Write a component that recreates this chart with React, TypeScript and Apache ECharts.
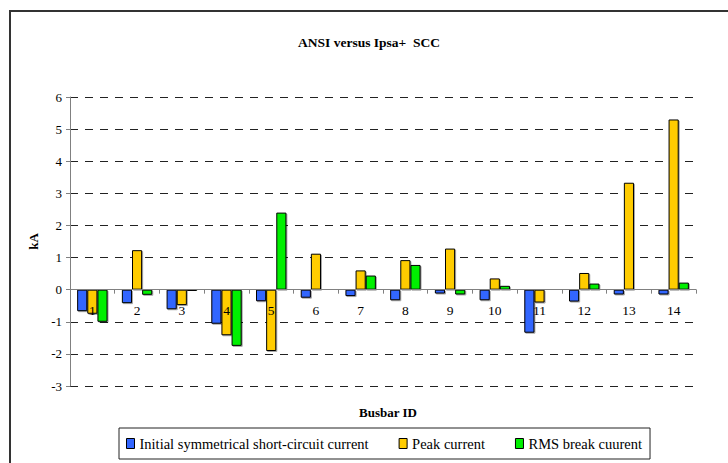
import React, { useEffect, useRef } from "react";
import * as echarts from "echarts";

const categories = ["1", "2", "3", "4", "5", "6", "7", "8", "9", "10", "11", "12", "13", "14"];
const initialSymmetrical = [-0.67, -0.42, -0.61, -1.06, -0.36, -0.25, -0.2, -0.33, -0.12, -0.33, -1.34, -0.37, -0.15, -0.15];
const peakCurrent = [-0.75, 1.23, -0.48, -1.42, -1.91, 1.12, 0.6, 0.92, 1.28, 0.35, -0.4, 0.52, 3.33, 5.3];
const rmsBreak = [-1.0, -0.16, -0.04, -1.75, 2.4, 0.03, 0.44, 0.77, -0.15, 0.12, -0.03, 0.19, -0.03, 0.22];
const seriesNames = ["Initial symmetrical short-circuit current", "Peak current", "RMS break cuurent"];
const seriesColors = ["#3366FF", "#FFCC00", "#00F000"];
const yMin = -3;
const yMax = 6;

const FONT = "'Liberation Serif', 'DejaVu Serif', serif";

const W = 728;
const H = 463;
const GRID = { left: 70, right: 32, top: 97, bottom: 77 };

export default function App() {
  const ref = useRef<HTMLDivElement>(null);
  useEffect(() => {
    if (!ref.current) return;
    const chart = echarts.init(ref.current, undefined, { renderer: "svg" });
    const values = [initialSymmetrical, peakCurrent, rmsBreak];
    const plotH = H - GRID.top - GRID.bottom;
    const zeroOffset = -(plotH * (0 - yMin)) / (yMax - yMin);
    chart.setOption({
      animation: false,
      backgroundColor: "#fff",
      title: [
        {
          text: "ANSI versus Ipsa+  SCC",
          left: 364,
          textAlign: "center",
          top: 30,
          textStyle: { fontFamily: FONT, fontSize: 13.5, fontWeight: "bold", color: "#000" },
        },
        {
          text: "Busbar ID",
          left: 383,
          textAlign: "center",
          top: 401,
          textStyle: { fontFamily: FONT, fontSize: 13, fontWeight: "bold", color: "#000" },
        },
      ],
      graphic: [
        {
          type: "polyline",
          shape: { points: [[10, 470], [10, 11], [740, 11]] },
          style: { stroke: "#333", lineWidth: 2, fill: "none" },
          silent: true,
        },
      ],
      legend: {
        left: 119,
        top: 428,
        padding: [8, 8, 8, 7],
        itemGap: 30,
        itemWidth: 8,
        itemHeight: 10,
        icon: "rect",
        borderColor: "#222",
        borderWidth: 1,
        textStyle: { fontFamily: FONT, fontSize: 14.5, color: "#000" },
        data: seriesNames.map((n) => ({ name: n, itemStyle: { borderColor: "#000", borderWidth: 1 } })),
      },
      grid: GRID,
      xAxis: {
        type: "category",
        data: categories,
        z: 10,
        position: "bottom",
        offset: zeroOffset,
        axisLine: { onZero: false, lineStyle: { color: "#808080", width: 1 } },
        axisTick: { show: true, length: 4, lineStyle: { color: "#808080" } },
        axisLabel: { margin: 14, fontFamily: FONT, fontSize: 13.5, color: "#000" },
      },
      yAxis: {
        type: "value",
        min: yMin,
        max: yMax,
        interval: 1,
        name: "kA",
        nameLocation: "middle",
        nameGap: 23,
        nameTextStyle: { fontFamily: FONT, fontSize: 13, fontWeight: "bold", color: "#000" },
        axisLine: { show: true, onZero: false, lineStyle: { color: "#808080", width: 1 } },
        axisTick: { show: true, length: 4, lineStyle: { color: "#808080" } },
        axisLabel: { margin: 8, fontFamily: FONT, fontSize: 13, color: "#000" },
        splitLine: { show: true, lineStyle: { color: "#222", width: 1, type: [8, 7] } },
      },
      series: seriesNames.map((name, i) => ({
        name,
        type: "bar",
        data: values[i],
        barGap: "0%",
        barCategoryGap: "32%",
        itemStyle: {
          color: seriesColors[i],
          borderColor: "#000",
          borderWidth: 1,
          shadowColor: "rgba(0,0,0,0.35)",
          shadowOffsetX: 1,
          shadowOffsetY: 1,
          shadowBlur: 1,
        },
      })),
    });
    return () => chart.dispose();
  }, []);
  return (
    <div
      ref={ref}
      style={{ position: "fixed", left: 0, top: 0, width: W, height: H }}
    />
  );
}
